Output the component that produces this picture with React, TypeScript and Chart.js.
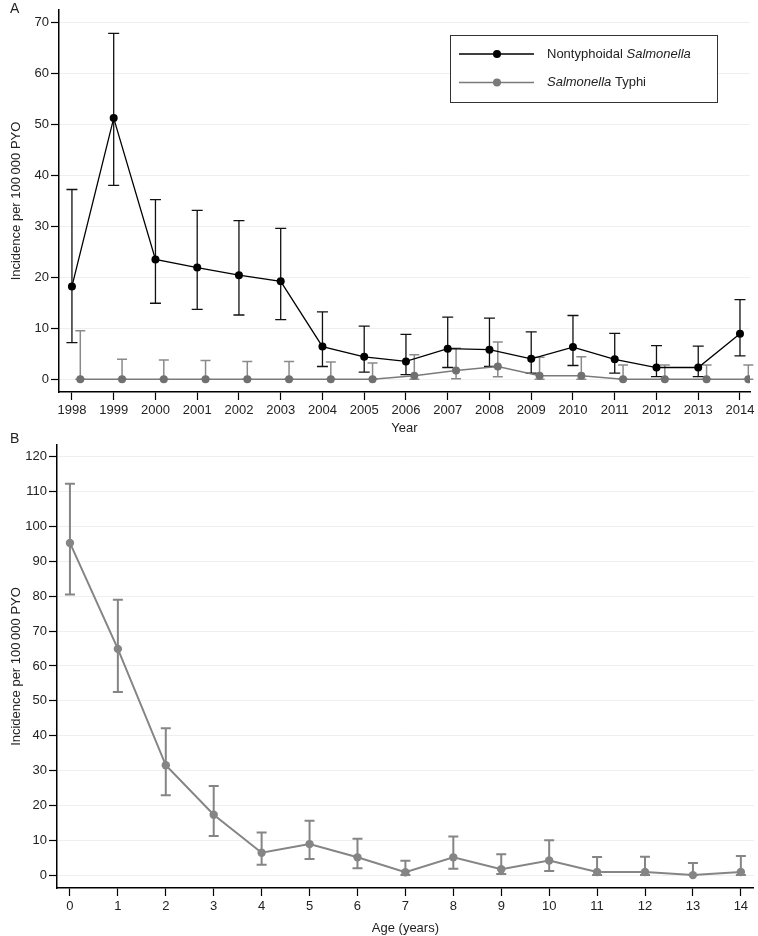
import React, { useEffect, useRef } from 'react';
import { Chart, registerables } from 'chart.js';

Chart.register(...registerables);

// ---------- Data ----------
const years = [1998, 1999, 2000, 2001, 2002, 2003, 2004, 2005, 2006, 2007, 2008, 2009, 2010, 2011, 2012, 2013, 2014];
const ntsIncidence = [18.2, 51.2, 23.5, 21.9, 20.4, 19.2, 6.4, 4.4, 3.5, 6.0, 5.8, 4.0, 6.3, 3.9, 2.3, 2.3, 8.9];
const ntsLower = [7.2, 38.0, 14.9, 13.7, 12.6, 11.7, 2.5, 1.4, 0.9, 2.3, 2.5, 1.2, 2.7, 1.2, 0.5, 0.5, 4.6];
const ntsUpper = [37.2, 67.8, 35.2, 33.1, 31.1, 29.6, 13.2, 10.4, 8.8, 12.2, 12.0, 9.3, 12.5, 9.0, 6.6, 6.5, 15.6];
const typhiIncidence = [0, 0, 0, 0, 0, 0, 0, 0, 0.7, 1.7, 2.5, 0.7, 0.7, 0, 0, 0, 0];
const typhiLower = [0, 0, 0, 0, 0, 0, 0, 0, 0, 0.1, 0.5, 0, 0, 0, 0, 0, 0];
const typhiUpper = [9.5, 3.9, 3.75, 3.7, 3.5, 3.5, 3.4, 3.2, 4.8, 6.1, 7.3, 4.3, 4.4, 2.8, 2.8, 2.8, 2.8];
const TYPHI_OFFSET = 0.2;

const ages = [0, 1, 2, 3, 4, 5, 6, 7, 8, 9, 10, 11, 12, 13, 14];
const ageIncidence = [95.3, 64.9, 31.5, 17.3, 6.4, 8.9, 5.1, 0.8, 5.1, 1.7, 4.2, 0.9, 0.9, 0, 0.9];
const ageLower = [80.5, 52.5, 22.9, 11.2, 3.0, 4.6, 2.0, 0, 1.8, 0.3, 1.2, 0, 0, 0, 0];
const ageUpper = [112.3, 79.0, 42.1, 25.6, 12.2, 15.6, 10.4, 4.1, 11.1, 6.0, 10.0, 5.2, 5.3, 3.5, 5.5];

const yTicksA = [0, 10, 20, 30, 40, 50, 60, 70];
const yTicksB = [0, 10, 20, 30, 40, 50, 60, 70, 80, 90, 100, 110, 120];

const FONT = '"Liberation Sans", Arial, Helvetica, sans-serif';
const TEXT = '#222';

// ---------- Plugins ----------
const errorBarPlugin = {
  id: 'errorBars',
  beforeDatasetsDraw(chart: any) {
    const ctx = chart.ctx;
    const xs = chart.scales.x;
    const ys = chart.scales.y;
    chart.data.datasets.forEach((ds: any) => {
      const eb = ds.errorBars;
      if (!eb) return;
      ctx.save();
      ctx.strokeStyle = eb.color;
      ctx.lineWidth = eb.width;
      ds.data.forEach((p: any, j: number) => {
        const x = xs.getPixelForValue(p.x);
        const yl = ys.getPixelForValue(eb.low[j]);
        const yh = ys.getPixelForValue(eb.high[j]);
        ctx.beginPath();
        ctx.moveTo(x, yl);
        ctx.lineTo(x, yh);
        ctx.moveTo(x - eb.cap, yl);
        ctx.lineTo(x + eb.cap, yl);
        ctx.moveTo(x - eb.cap, yh);
        ctx.lineTo(x + eb.cap, yh);
        ctx.stroke();
      });
      ctx.restore();
    });
  },
};

const legendPlugin = {
  id: 'customLegend',
  afterDraw(chart: any) {
    const opts = chart.options.plugins.customLegend;
    if (!opts || !opts.items) return;
    const ctx = chart.ctx;
    const bx = opts.x, by = opts.y, bw = opts.w, bh = opts.h;
    ctx.save();
    ctx.fillStyle = '#fff';
    ctx.fillRect(bx, by, bw, bh);
    ctx.strokeStyle = '#333';
    ctx.lineWidth = 1;
    ctx.strokeRect(bx + 0.5, by + 0.5, bw, bh);
    opts.items.forEach((it: any, i: number) => {
      const y = by + 19 + i * 28.5;
      ctx.strokeStyle = it.color;
      ctx.lineWidth = it.lineWidth;
      ctx.beginPath();
      ctx.moveTo(bx + 9, y);
      ctx.lineTo(bx + 84, y);
      ctx.stroke();
      ctx.fillStyle = it.color;
      ctx.beginPath();
      ctx.arc(bx + 47, y, 4, 0, Math.PI * 2);
      ctx.fill();
      let tx = bx + 97;
      ctx.fillStyle = TEXT;
      ctx.textBaseline = 'middle';
      it.parts.forEach((part: any) => {
        ctx.font = (part.italic ? 'italic ' : '') + '13px ' + FONT;
        ctx.fillText(part.text, tx, y);
        tx += ctx.measureText(part.text).width;
      });
    });
    ctx.restore();
  },
};

function axisOptions(cfg: any) {
  return {
    x: {
      type: 'linear',
      min: cfg.xMin,
      max: cfg.xMax,
      afterBuildTicks: (s: any) => {
        s.ticks = cfg.xTicks.map((v: number) => ({ value: v }));
      },
      afterFit: (s: any) => {
        s.height = cfg.xHeight;
        s.paddingLeft = 0;
        s.paddingRight = 0;
      },
      grid: { drawOnChartArea: false, drawTicks: true, tickLength: 8, tickColor: '#000', tickWidth: 1.2 },
      border: { display: true, color: '#000', width: 1.5 },
      ticks: {
        color: TEXT,
        font: { family: FONT, size: 13 },
        padding: 3,
        maxRotation: 0,
        autoSkip: false,
        callback: (v: any) => String(v),
      },
      title: { display: true, text: cfg.xTitle, color: TEXT, font: { family: FONT, size: 13 }, padding: { top: 0, bottom: 0 } },
    },
    y: {
      type: 'linear',
      min: cfg.yMin,
      max: cfg.yMax,
      afterBuildTicks: (s: any) => {
        s.ticks = cfg.yTicks.map((v: number) => ({ value: v }));
      },
      afterFit: (s: any) => {
        s.width = cfg.yWidth;
        s.paddingTop = 0;
        s.paddingBottom = 0;
      },
      grid: { color: '#efefef', lineWidth: 1, drawTicks: true, tickLength: 8, tickColor: '#000', tickWidth: 1.2 },
      border: { display: true, color: '#000', width: 1.5 },
      ticks: {
        color: TEXT,
        font: { family: FONT, size: 13 },
        padding: 2,
        autoSkip: false,
        callback: (v: any) => String(v),
      },
      title: { display: true, text: 'Incidence per 100\u2009000 PYO', color: TEXT, font: { family: FONT, size: 13 }, padding: { top: 9, bottom: 0 } },
    },
  };
}

function PanelA() {
  const ref = useRef<HTMLCanvasElement>(null);
  useEffect(() => {
    if (!ref.current) return;
    const chart = new Chart(ref.current, {
      type: 'scatter',
      data: {
        datasets: [
          {
            label: 'Nontyphoidal Salmonella',
            data: years.map((yr, i) => ({ x: yr, y: ntsIncidence[i] })),
            showLine: true,
            borderColor: '#000',
            backgroundColor: '#000',
            borderWidth: 1.3,
            pointRadius: 4,
            pointBorderWidth: 0,
            pointHoverRadius: 4,
            errorBars: { low: ntsLower, high: ntsUpper, color: '#111', width: 1.3, cap: 5.5 },
          } as any,
          {
            label: 'Salmonella Typhi',
            data: years.map((yr, i) => ({ x: yr + TYPHI_OFFSET, y: typhiIncidence[i] })),
            showLine: true,
            borderColor: '#7a7a7a',
            backgroundColor: '#707070',
            borderWidth: 1.5,
            pointRadius: 4,
            pointBorderWidth: 0,
            pointHoverRadius: 4,
            errorBars: { low: typhiLower, high: typhiUpper, color: '#8a8a8a', width: 1.5, cap: 5 },
          } as any,
        ],
      },
      options: {
        responsive: false,
        animation: false,
        events: [],
        layout: { padding: { top: 10, right: 8, left: 0, bottom: 0 } },
        scales: axisOptions({
          xMin: 1997.69, xMax: 2014.24, xTicks: years, xHeight: 44, xTitle: 'Year',
          yMin: -2.5, yMax: 72.4, yTicks: yTicksA, yWidth: 59,
        }) as any,
        plugins: {
          legend: { display: false },
          tooltip: { enabled: false },
          customLegend: {
            x: 450, y: 35, w: 267, h: 67,
            items: [
              { color: '#000', lineWidth: 1.3, parts: [{ text: 'Nontyphoidal ' }, { text: 'Salmonella', italic: true }] },
              { color: '#7a7a7a', lineWidth: 1.5, parts: [{ text: 'Salmonella', italic: true }, { text: ' Typhi' }] },
            ],
          },
        } as any,
      },
      plugins: [errorBarPlugin, legendPlugin],
    });
    return () => chart.destroy();
  }, []);
  return <canvas ref={ref} width={758} height={436} style={{ position: 'absolute', left: 0, top: 0, display: 'block' }} />;
}

function PanelB() {
  const ref = useRef<HTMLCanvasElement>(null);
  useEffect(() => {
    if (!ref.current) return;
    const chart = new Chart(ref.current, {
      type: 'scatter',
      data: {
        datasets: [
          {
            label: 'Incidence by age',
            data: ages.map((a, i) => ({ x: a, y: ageIncidence[i] })),
            showLine: true,
            borderColor: '#858585',
            backgroundColor: '#858585',
            borderWidth: 2,
            pointRadius: 4.2,
            pointBorderWidth: 0,
            pointHoverRadius: 4.2,
            errorBars: { low: ageLower, high: ageUpper, color: '#858585', width: 2, cap: 5 },
          } as any,
        ],
      },
      options: {
        responsive: false,
        animation: false,
        events: [],
        layout: { padding: { top: 9, right: 1, left: 0, bottom: 0 } },
        scales: axisOptions({
          xMin: -0.27, xMax: 14.27, xTicks: ages, xHeight: 48, xTitle: 'Age (years)',
          yMin: -3.7, yMax: 123.4, yTicks: yTicksB, yWidth: 57,
        }) as any,
        plugins: {
          legend: { display: false },
          tooltip: { enabled: false },
        },
      },
      plugins: [errorBarPlugin],
    });
    return () => chart.destroy();
  }, []);
  return <canvas ref={ref} width={758} height={500} style={{ position: 'absolute', left: 0, top: 436, display: 'block' }} />;
}

const labelStyle: React.CSSProperties = {
  position: 'absolute',
  left: 10,
  fontFamily: FONT,
  fontSize: 14,
  lineHeight: '14px',
  color: TEXT,
  zIndex: 2,
};

export default function App() {
  return (
    <div style={{ position: 'absolute', left: 0, top: 0, width: 758, height: 936, background: '#fff', overflow: 'hidden' }}>
      <PanelA />
      <PanelB />
      <div style={{ ...labelStyle, top: 1 }}>A</div>
      <div style={{ ...labelStyle, top: 431 }}>B</div>
    </div>
  );
}
